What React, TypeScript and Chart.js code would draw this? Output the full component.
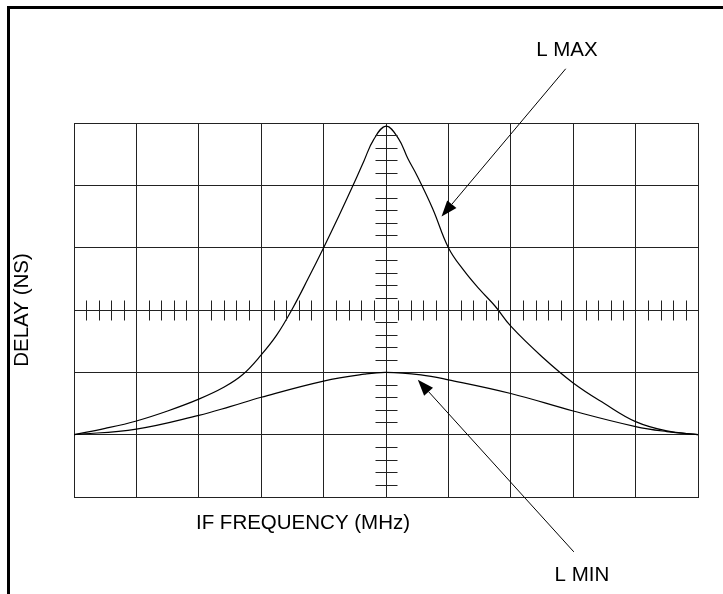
import React, { useEffect, useRef } from "react";
import { Chart, registerables } from "chart.js";

Chart.register(...registerables);

// IF frequency (grid divisions from centre) and delay (grid divisions from bottom)
const lMaxFreq = [-5, -4.5, -4, -3.5, -3, -2.6, -2.3, -2, -1.75, -1.5, -1.25, -1, -0.75, -0.5, -0.35, -0.2, 0, 0.2, 0.35, 0.5, 0.75, 1, 1.25, 1.5, 1.75, 2, 2.5, 3, 3.5, 4, 4.5, 5];
const lMaxDelay = [1.0, 1.1, 1.22, 1.38, 1.57, 1.76, 1.96, 2.28, 2.6, 3.02, 3.5, 4.0, 4.52, 5.06, 5.4, 5.73, 5.95, 5.75, 5.43, 5.15, 4.62, 4.0, 3.63, 3.33, 3.06, 2.74, 2.25, 1.83, 1.5, 1.21, 1.06, 1.0];

const lMinFreq = [-5, -4, -3, -2.5, -2, -1, -0.35, 0, 0.56, 1, 2, 3, 4, 4.5, 5];
const lMinDelay = [1.0, 1.09, 1.31, 1.45, 1.6, 1.86, 1.97, 2.0, 1.96, 1.88, 1.66, 1.38, 1.13, 1.05, 1.0];

const xTitle = "IF FREQUENCY (MHz)";
const yTitle = "DELAY (NS)";

// callouts: [label, label x, label y, line start x, line start y, arrow tip x, arrow tip y] (data units)
const callouts: [string, number, number, number, number, number, number][] = [
  ["L MAX", 2.9, 7.17, 2.88, 6.87, 0.89, 4.5],
  ["L MIN", 3.14, -1.25, 3.01, -0.88, 0.51, 1.88],
];

const FONT = "20.5px 'Liberation Sans', Arial, sans-serif";

const decorPlugin = {
  id: "decor",
  afterDatasetsDraw(chart: any) {
    const { ctx, scales } = chart;
    const xs = scales.x;
    const ys = scales.y;
    ctx.save();
    // minor ticks on centre axes
    ctx.strokeStyle = "#222";
    ctx.lineWidth = 1;
    const cy = Math.round(ys.getPixelForValue(3)) + 0.5;
    const cx = Math.round(xs.getPixelForValue(0)) + 0.5;
    ctx.beginPath();
    for (let i = -25; i <= 25; i++) {
      if (i % 5 === 0) continue;
      const px = Math.round(xs.getPixelForValue(i / 5)) + 0.5;
      ctx.moveTo(px, cy - 10);
      ctx.lineTo(px, cy + 10);
    }
    for (let i = 1; i <= 30; i++) {
      if (i % 5 === 0 && i !== 30) continue;
      const py = Math.round(ys.getPixelForValue(i / 5)) + 0.5;
      ctx.moveTo(cx - 11, py);
      ctx.lineTo(cx + 11, py);
    }
    ctx.stroke();

    // callouts
    ctx.fillStyle = "#000";
    ctx.strokeStyle = "#000";
    ctx.font = FONT;
    ctx.textAlign = "center";
    ctx.textBaseline = "middle";
    for (const [label, lx, ly, sx, sy, tx, ty] of callouts) {
      const Lx = xs.getPixelForValue(lx);
      const Ly = ys.getPixelForValue(ly);
      const Sx = xs.getPixelForValue(sx);
      const Sy = ys.getPixelForValue(sy);
      const Tx = xs.getPixelForValue(tx);
      const Ty = ys.getPixelForValue(ty);
      ctx.fillText(label, Lx, Ly);
      const ang = Math.atan2(Ty - Sy, Tx - Sx);
      const len = 16;
      const hw = 6;
      const bx = Tx - Math.cos(ang) * len;
      const by = Ty - Math.sin(ang) * len;
      ctx.beginPath();
      ctx.lineWidth = 1;
      ctx.moveTo(Sx, Sy);
      ctx.lineTo(bx, by);
      ctx.stroke();
      ctx.beginPath();
      ctx.moveTo(Tx, Ty);
      ctx.lineTo(bx - Math.sin(ang) * hw, by + Math.cos(ang) * hw);
      ctx.lineTo(bx + Math.sin(ang) * hw, by - Math.cos(ang) * hw);
      ctx.closePath();
      ctx.fill();
    }

    // axis titles
    ctx.fillText(xTitle, xs.getPixelForValue(-1.33), ys.bottom + 26);
    ctx.save();
    ctx.translate(22, ys.getPixelForValue(3));
    ctx.rotate(-Math.PI / 2);
    ctx.fillText(yTitle, 0, 0);
    ctx.restore();
    ctx.restore();
  },
};

export default function App() {
  const ref = useRef<HTMLCanvasElement | null>(null);
  useEffect(() => {
    if (!ref.current) return;
    const chart = new Chart(ref.current, {
      type: "scatter",
      data: {
        datasets: [
          {
            label: "L MAX",
            data: lMaxFreq.map((x, i) => ({ x, y: lMaxDelay[i] })),
            showLine: true,
            borderColor: "#000",
            borderWidth: 1.2,
            pointRadius: 0,
            tension: 0.4,
          } as any,
          {
            label: "L MIN",
            data: lMinFreq.map((x, i) => ({ x, y: lMinDelay[i] })),
            showLine: true,
            borderColor: "#000",
            borderWidth: 1.2,
            pointRadius: 0,
            tension: 0.4,
          } as any,
        ],
      },
      options: {
        responsive: false,
        animation: false,
        devicePixelRatio: 1,
        layout: { padding: { left: 74, right: 25, top: 123, bottom: 97 } },
        plugins: { legend: { display: false }, tooltip: { enabled: false } },
        scales: {
          x: {
            type: "linear",
            min: -5,
            max: 5,
            ticks: { display: false, stepSize: 1 },
            grid: { color: "#222", lineWidth: 1, drawTicks: false },
            border: { color: "#222", width: 1 },
          },
          y: {
            type: "linear",
            min: 0,
            max: 6,
            ticks: { display: false, stepSize: 1 },
            grid: { color: "#222", lineWidth: 1, drawTicks: false },
            border: { color: "#222", width: 1 },
          },
        },
      },
      plugins: [decorPlugin],
    });
    return () => chart.destroy();
  }, []);
  return (
    <div style={{ position: "fixed", left: 0, top: 0, width: 723, height: 594, background: "#fff", overflow: "hidden" }}>
      <div style={{ position: "absolute", left: 7, top: 6, width: 800, height: 700, borderTop: "3px solid #000", borderLeft: "3px solid #000" }} />
      <canvas ref={ref} width={723} height={594} style={{ position: "absolute", left: 0, top: 0, width: 723, height: 594 }} />
    </div>
  );
}
